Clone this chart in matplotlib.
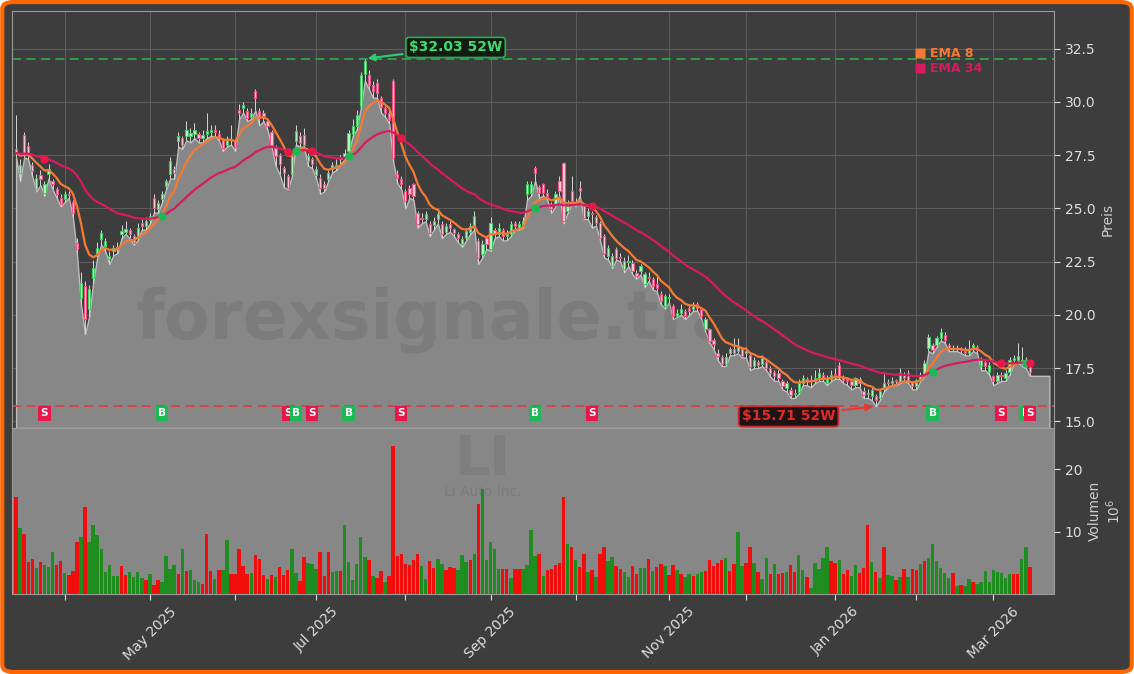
import matplotlib
matplotlib.use("Agg")
import matplotlib.pyplot as plt
import numpy as np
import pandas as pd
from matplotlib.lines import Line2D
from matplotlib.patches import FancyBboxPatch

# trading days (NYSE holidays removed)
holidays = ["2025-04-18", "2025-05-26", "2025-06-19", "2025-07-04", "2025-09-01",
            "2025-11-27", "2025-12-25", "2026-01-01", "2026-01-19", "2026-02-16"]
days = pd.bdate_range("2025-03-14", "2026-03-13")
days = days[~days.isin(pd.to_datetime(holidays))]

opens = [
    27.8, 26.67, 28.47, 27.92, 27.06, 25.89, 26.59, 25.73, 26.6, 26.3,
    25.9, 25.5, 25.45, 25.7, 25.3, 23.39, 20.81, 21.36, 20.27, 21.75,
    22.92, 23.55, 23.23, 22.61, 23.0, 23.2, 23.78, 23.9, 24.0, 23.7,
    23.6, 24.33, 24.17, 24.45, 25.5, 24.95, 25.42, 26.05, 26.6, 26.83,
    28.16, 28.3, 28.4, 28.39, 28.5, 28.5, 28.3, 28.5, 28.6, 28.7,
    28.5, 28.2, 28.0, 28.2, 28.1, 29.64, 29.72, 29.56, 29.3, 30.5,
    29.56, 29.48, 29.1, 28.6, 27.9, 27.5, 26.91, 26.52, 26.6, 28.16,
    28.39, 28.47, 27.22, 27.3, 26.59, 26.44, 26.13, 26.4, 26.83, 27.0,
    27.4, 27.4, 27.7, 28.5, 28.86, 29.8, 31.3, 31.28, 30.8, 30.89,
    30.2, 29.7, 29.48, 30.97, 26.6, 26.4, 25.8, 25.97, 26.13, 24.8,
    24.5, 24.5, 24.25, 24.2, 24.5, 24.25, 23.9, 24.25, 24.02, 23.8,
    23.31, 23.62, 23.9, 24.09, 23.47, 22.84, 23.62, 23.08, 24.0, 23.8,
    24.0, 23.7, 23.8, 24.3, 24.1, 24.2, 25.66, 25.73, 26.91, 26.0,
    26.13, 25.73, 25.2, 25.2, 26.28, 27.14, 24.9, 25.81, 25.3, 25.97,
    25.11, 24.64, 24.8, 24.6, 24.33, 23.7, 22.77, 22.3, 23.08, 22.7,
    22.14, 22.5, 22.45, 21.98, 22.06, 21.44, 21.8, 21.7, 21.44, 21.0,
    20.42, 20.8, 20.4, 19.95, 20.1, 20.2, 20.34, 20.3, 20.5, 20.27,
    19.33, 19.33, 18.8, 18.23, 18.0, 17.69, 18.2, 18.4, 18.3, 18.39,
    18.2, 18.1, 17.6, 17.8, 17.7, 17.8, 17.5, 17.3, 17.27, 16.88,
    16.56, 16.48, 16.3, 16.4, 16.8, 17.0, 16.9, 16.9, 17.0, 17.2,
    16.8, 17.0, 17.2, 17.66, 17.1, 17.0, 16.9, 16.72, 17.0, 16.41,
    16.3, 16.17, 16.2, 16.1, 16.5, 16.85, 16.8, 16.9, 16.9, 17.2,
    17.27, 16.88, 16.64, 16.95, 17.2, 18.44, 18.6, 18.59, 18.9, 19.06,
    18.6, 18.4, 18.45, 18.4, 18.3, 18.2, 18.4, 18.5, 17.58, 17.8,
    17.34, 17.11, 16.9, 17.2, 17.03, 17.3, 17.9, 17.9, 17.66, 17.9,
    17.66,
]
highs = [
    29.4, 27.3, 28.6, 28.1, 27.2, 26.6, 26.8, 26.3, 27.1, 26.4,
    26.0, 25.7, 25.8, 25.8, 25.4, 23.6, 22.0, 21.6, 21.4, 22.6,
    23.4, 24.0, 23.6, 23.0, 23.3, 23.4, 24.2, 24.4, 24.1, 23.8,
    24.3, 24.5, 24.6, 24.8, 25.7, 25.4, 25.8, 26.4, 27.4, 27.0,
    28.6, 28.4, 29.1, 28.8, 29.0, 28.6, 28.7, 29.5, 28.9, 28.9,
    28.7, 28.3, 28.4, 28.9, 28.2, 29.9, 30.0, 29.7, 29.7, 30.6,
    29.7, 29.6, 29.2, 28.7, 28.0, 27.6, 27.0, 26.6, 27.6, 28.9,
    28.6, 28.8, 27.6, 27.4, 27.0, 26.6, 26.3, 26.8, 27.2, 27.3,
    27.5, 27.8, 28.7, 29.2, 29.6, 31.4, 32.03, 31.5, 31.0, 31.1,
    30.3, 29.8, 29.6, 31.1, 26.8, 26.5, 25.9, 26.1, 26.2, 24.9,
    24.8, 24.9, 24.4, 24.6, 24.9, 24.4, 24.3, 24.4, 24.1, 23.9,
    23.7, 24.1, 24.3, 24.9, 23.6, 23.5, 23.7, 24.6, 24.1, 24.3,
    24.1, 24.0, 24.4, 24.4, 24.4, 24.6, 26.3, 26.3, 27.0, 26.1,
    26.2, 25.9, 25.3, 25.8, 26.5, 27.2, 25.4, 26.5, 25.5, 26.3,
    25.2, 25.0, 24.9, 24.7, 24.4, 23.8, 23.3, 22.9, 23.2, 22.9,
    22.7, 22.8, 22.6, 22.1, 22.4, 22.0, 22.0, 21.8, 21.9, 21.1,
    21.0, 21.0, 20.5, 20.3, 20.5, 20.3, 20.5, 20.6, 20.6, 20.3,
    19.9, 19.4, 18.9, 18.4, 18.1, 18.2, 18.5, 18.9, 18.9, 18.5,
    18.5, 18.2, 18.0, 17.9, 18.1, 17.9, 17.6, 17.4, 17.4, 17.0,
    16.9, 16.6, 16.5, 17.0, 17.2, 17.1, 17.2, 17.4, 17.5, 17.3,
    17.2, 17.4, 17.5, 17.8, 17.2, 17.1, 17.0, 17.1, 17.1, 16.6,
    16.5, 16.6, 16.3, 16.5, 17.3, 17.0, 17.1, 17.0, 17.5, 17.3,
    17.4, 16.9, 17.0, 17.3, 17.9, 19.1, 18.7, 19.0, 19.4, 19.2,
    18.7, 18.6, 18.6, 18.5, 18.5, 18.8, 18.7, 18.6, 18.0, 17.9,
    17.8, 17.2, 17.3, 17.3, 17.4, 18.0, 18.1, 18.7, 18.5, 18.0,
    17.7,
]
lows = [
    27.4, 26.3, 27.4, 27.3, 26.5, 25.8, 26.1, 25.6, 26.4, 25.9,
    25.5, 25.1, 25.3, 25.5, 24.6, 22.9, 20.5, 19.09, 19.9, 21.5,
    22.7, 23.3, 23.0, 22.4, 22.8, 22.9, 23.6, 23.8, 23.6, 23.3,
    23.5, 24.0, 24.0, 24.3, 24.8, 24.8, 25.3, 25.9, 26.4, 26.4,
    27.9, 27.8, 28.2, 28.1, 28.3, 28.1, 28.1, 28.3, 28.4, 28.4,
    28.2, 27.7, 27.9, 28.0, 27.7, 29.2, 29.5, 29.1, 29.2, 29.6,
    28.9, 29.1, 28.7, 27.9, 27.0, 26.6, 26.0, 25.9, 26.5, 28.0,
    27.9, 27.9, 27.0, 26.9, 26.4, 25.7, 25.8, 26.3, 26.7, 26.8,
    27.1, 27.3, 27.6, 28.4, 28.7, 29.7, 31.0, 30.6, 30.2, 30.2,
    29.5, 29.3, 29.0, 27.2, 26.2, 25.9, 25.0, 25.5, 25.4, 24.1,
    24.3, 24.4, 23.7, 24.0, 24.3, 23.6, 23.8, 23.9, 23.7, 23.4,
    23.2, 23.5, 23.8, 24.0, 22.4, 22.7, 23.1, 23.0, 23.6, 23.7,
    23.5, 23.5, 23.7, 24.0, 24.0, 24.1, 25.4, 25.6, 26.3, 25.5,
    25.6, 25.4, 24.8, 25.1, 25.6, 24.3, 24.8, 25.2, 25.1, 25.6,
    24.5, 24.5, 24.1, 24.2, 23.5, 22.7, 22.6, 22.2, 22.6, 22.5,
    22.0, 22.3, 21.9, 21.7, 21.9, 21.3, 21.6, 21.2, 21.1, 20.5,
    20.3, 20.6, 19.8, 19.9, 20.0, 19.8, 20.0, 20.2, 20.2, 19.8,
    19.2, 18.7, 18.4, 17.9, 17.6, 17.6, 18.1, 18.1, 18.2, 18.0,
    18.0, 17.4, 17.5, 17.5, 17.6, 17.4, 17.1, 16.9, 16.9, 16.5,
    16.4, 16.1, 16.1, 16.3, 16.7, 16.7, 16.6, 16.8, 16.9, 16.9,
    16.7, 16.9, 17.0, 17.0, 16.8, 16.7, 16.5, 16.6, 16.6, 16.1,
    16.1, 16.0, 15.71, 16.0, 16.4, 16.6, 16.7, 16.7, 16.8, 16.9,
    16.8, 16.5, 16.5, 16.9, 17.1, 18.3, 18.2, 18.5, 18.8, 18.7,
    18.3, 18.3, 18.3, 18.2, 18.1, 18.1, 18.3, 18.2, 17.4, 17.4,
    17.2, 16.7, 16.8, 16.9, 16.9, 17.2, 17.7, 17.8, 17.6, 17.5,
    17.14,
]
closes = [
    27.6, 27.06, 27.61, 27.53, 26.77, 26.44, 26.36, 26.13, 26.83, 26.13,
    25.66, 25.19, 25.66, 25.63, 24.8, 23.08, 21.52, 19.8, 21.2, 22.22,
    23.16, 23.86, 23.47, 22.77, 23.16, 23.1, 23.94, 24.02, 23.81, 23.39,
    24.09, 24.17, 24.41, 24.64, 25.03, 25.27, 25.66, 26.28, 27.22, 26.67,
    28.39, 28.0, 28.66, 28.55, 28.7, 28.31, 28.47, 28.63, 28.7, 28.6,
    28.31, 27.84, 28.23, 28.23, 27.88, 29.48, 29.88, 29.25, 29.48, 30.19,
    29.25, 29.33, 28.86, 28.0, 27.45, 27.1, 26.67, 25.97, 27.45, 28.63,
    28.08, 28.0, 27.45, 27.1, 26.83, 25.97, 25.97, 26.67, 27.06, 27.06,
    27.3, 27.61, 28.55, 28.86, 29.41, 31.28, 31.9, 30.81, 30.5, 30.42,
    29.75, 29.48, 29.17, 27.38, 26.44, 26.13, 25.34, 25.66, 25.58, 24.25,
    24.48, 24.72, 23.86, 24.41, 24.72, 23.78, 24.17, 24.09, 23.86, 23.62,
    23.55, 23.94, 24.17, 24.64, 22.69, 23.31, 23.31, 24.33, 23.78, 24.09,
    23.7, 23.78, 24.25, 24.17, 24.25, 24.41, 26.13, 26.13, 26.67, 25.73,
    25.73, 25.58, 24.95, 25.66, 25.81, 24.41, 25.11, 25.34, 25.27, 25.81,
    24.56, 24.88, 24.72, 24.33, 23.63, 22.84, 23.16, 22.77, 22.69, 22.69,
    22.53, 22.53, 22.06, 21.83, 22.3, 21.91, 21.75, 21.36, 21.28, 20.66,
    20.89, 20.81, 19.95, 20.11, 20.27, 19.95, 20.19, 20.42, 20.34, 19.95,
    19.8, 18.78, 18.63, 18.08, 17.69, 18.03, 18.39, 18.23, 18.47, 18.08,
    18.31, 17.55, 17.89, 17.66, 17.97, 17.5, 17.27, 17.11, 17.03, 16.64,
    16.8, 16.25, 16.33, 16.8, 17.03, 16.88, 16.88, 17.03, 17.27, 17.03,
    17.03, 17.19, 17.19, 17.11, 16.95, 16.88, 16.72, 17.03, 16.8, 16.25,
    16.33, 16.48, 16.02, 16.41, 16.8, 16.78, 16.88, 16.88, 17.27, 17.03,
    16.88, 16.64, 16.95, 17.19, 17.73, 18.98, 18.36, 18.91, 19.22, 18.83,
    18.44, 18.44, 18.4, 18.36, 18.2, 18.36, 18.59, 18.36, 17.89, 17.58,
    17.66, 16.88, 17.19, 17.11, 17.27, 17.89, 17.97, 18.05, 17.89, 17.81,
    17.34,
]
# volume in millions, colour per bar (G = green, R = red)
volume_m = [
    15.6, 10.6, 9.6, 5.1, 5.6, 4.1, 5.1, 4.6, 4.3, 6.7,
    4.6, 5.3, 3.3, 3.0, 3.7, 8.3, 9.1, 14.0, 8.4, 11.0,
    9.4, 7.3, 3.5, 4.6, 2.9, 2.9, 4.5, 3.0, 3.5, 2.7,
    3.5, 2.5, 2.2, 3.2, 1.4, 2.2, 1.9, 6.1, 4.0, 4.6,
    3.2, 7.3, 3.7, 3.8, 2.2, 2.0, 1.6, 9.6, 3.7, 2.4,
    3.8, 3.8, 8.6, 3.2, 3.2, 7.3, 4.5, 3.2, 3.3, 6.2,
    5.6, 3.0, 2.4, 3.0, 2.7, 4.3, 3.0, 3.8, 7.2, 3.3,
    2.1, 5.9, 4.9, 4.8, 4.0, 6.8, 2.9, 6.7, 3.5, 3.7,
    3.7, 11.0, 5.1, 2.2, 4.8, 9.2, 5.9, 5.4, 2.9, 2.5,
    3.7, 1.9, 2.9, 23.8, 6.1, 6.4, 4.8, 4.6, 5.4, 6.4,
    4.5, 2.4, 5.3, 4.1, 5.6, 4.8, 3.8, 4.3, 4.1, 3.8,
    6.2, 5.1, 5.4, 6.5, 14.4, 16.8, 5.4, 8.3, 7.2, 4.0,
    4.0, 4.0, 2.5, 4.0, 4.0, 4.0, 4.6, 10.2, 6.1, 6.5,
    2.9, 3.8, 4.0, 4.6, 4.9, 15.6, 8.1, 7.5, 5.4, 4.3,
    6.4, 3.5, 3.8, 2.7, 6.5, 7.5, 5.3, 5.9, 4.5, 4.0,
    3.5, 2.7, 4.5, 3.2, 4.1, 4.1, 5.6, 3.7, 4.3, 4.8,
    4.5, 3.0, 4.6, 3.8, 3.2, 2.7, 3.2, 2.9, 3.2, 3.5,
    3.7, 5.4, 4.5, 4.9, 5.4, 5.7, 3.7, 4.8, 9.9, 4.5,
    4.9, 7.5, 4.9, 3.5, 2.4, 5.7, 3.2, 4.8, 3.2, 3.3,
    3.5, 4.6, 3.5, 6.2, 3.8, 2.7, 0.9, 4.9, 4.0, 5.7,
    7.5, 5.3, 4.9, 5.4, 3.2, 3.8, 2.9, 4.6, 3.3, 4.1,
    11.0, 5.1, 3.5, 2.5, 7.6, 3.0, 2.9, 2.2, 2.7, 4.0,
    2.7, 4.0, 3.8, 4.8, 5.3, 5.7, 8.0, 5.3, 4.1, 3.3,
    2.5, 3.3, 1.3, 1.4, 1.3, 2.4, 1.9, 1.6, 1.9, 3.7,
    1.9, 3.8, 3.5, 3.3, 2.5, 3.2, 3.2, 3.2, 5.6, 7.5,
    4.3,
]
volume_dir = ("RGRRRGRGGG" "RRGRRRGRGG" "GGGGGGRRGG" "GGRGRRGGGG" "RGRGGGRRRG"
              "RGGRRRRRGR" "RRGRGRRRGG" "RRGGGRRRGG" "RGGGGGGRGR" "RGR"
              "R"
              "RRRRRRGGRR" "GGRRRGGGRG" "RGGGGGRRGR" "RGGGGRGRRR" "R"
              "RG"
              "RGRRGRGRRG" "GRRGGRRGGR" "GRRGRRGRGG" "RGGRRRRRGR" "RGGRRGRGGR"
              "GRRGRRGGRG" "GGGGRRGRRG" "GRRRGRGRGG" "RGRGRRGRGG" "GGGGRGRGGR"
              "GGGGGGGGGR" "RGGR")

# EMA crossover signals
signal_idx = [7, 36, 67, 69, 73, 82, 95, 128, 142, 226, 243, 249, 250]
signal_type = ["S", "B", "S", "B", "S", "B", "S", "B", "S", "B", "S", "B", "S"]

BG = "#3d3d3d"
AREA = "#878787"
UP_C, DN_C = "#1db954", "#e8174a"
EMA8_C, EMA34_C = "#f47a33", "#d81b60"

x = np.arange(len(closes))
o = np.array(opens); c = np.array(closes)
h = np.array(highs); l = np.array(lows)
ema8 = pd.Series(closes).ewm(span=8, adjust=False).mean().values
ema34 = pd.Series(closes).ewm(span=34, adjust=False).mean().values

fig = plt.figure(figsize=(11.34, 6.74), dpi=100, facecolor="white")
frame = FancyBboxPatch((0.002, 0.003), 0.996, 0.994, boxstyle="round,pad=0,rounding_size=0.01",
                       transform=fig.transFigure, facecolor=BG, edgecolor="#ff6600",
                       linewidth=3, zorder=-10)
fig.patches.append(frame)

ax = fig.add_axes([0.0106, 0.365, 0.919, 0.6187])
axv = fig.add_axes([0.0106, 0.1187, 0.919, 0.2463], sharex=ax)

ymin, ymax = l.min() * 0.935, h.max() * 1.07
ax.set_facecolor(BG)
ax.set_ylim(ymin, ymax)
ax.set_xlim(-1, len(x) + 5)

# grey area under the lows, held flat a few bars past the end
xs = np.append(x, x[-1] + 4.8)
ls = np.append(l, l[-1])
ax.fill_between(xs, ls, ymin, facecolor=AREA, edgecolor="#bdbdbd", linewidth=1, zorder=1)

ax.text(0.452, 0.259, "forexsignale.trade", transform=ax.transAxes, fontsize=48,
        fontweight="bold", color=BG, alpha=0.14, ha="center", va="center", zorder=2)

# candles
up = c >= o
ax.vlines(x, l, h, color="#d6d6d6", linewidth=0.7, zorder=3)
body_lo = np.minimum(o, c)
body_h = np.maximum(np.abs(c - o), 0.05)
ax.bar(x[up], body_h[up], bottom=body_lo[up], width=0.55, color="#c4f2cc",
       edgecolor="#45c866", linewidth=0.8, zorder=3)
ax.bar(x[~up], body_h[~up], bottom=body_lo[~up], width=0.55, color="#ffd0da",
       edgecolor="#f0517f", linewidth=0.8, zorder=3)

ax.plot(x, ema8, color=EMA8_C, linewidth=1.6, zorder=4)
ax.plot(x, ema34, color=EMA34_C, linewidth=1.6, zorder=4)

# 52-week high / low
hi_i, lo_i = int(np.argmax(h)), int(np.argmin(l))
ax.axhline(h[hi_i], color="#2ea44f", linestyle=(0, (5, 3)), linewidth=1.3, zorder=2)
ax.axhline(l[lo_i], color="#e04040", linestyle=(0, (5, 3)), linewidth=1.3, zorder=2)
ax.annotate("\\$%.2f 52W" % h[hi_i], xy=(hi_i, h[hi_i]), xytext=(108.4, 32.56),
            fontsize=10, fontweight="bold", color="#3ddc6e", ha="center", va="center",
            bbox=dict(boxstyle="round,pad=0.22", fc="#121a14", ec="#2ea44f", lw=1.3),
            arrowprops=dict(arrowstyle="-|>", color="#2ecc71", lw=1.5, mutation_scale=10),
            zorder=6)
ax.annotate("\\$%.2f 52W" % l[lo_i], xy=(lo_i, l[lo_i]), xytext=(190.5, 15.23),
            fontsize=10, fontweight="bold", color="#e02a2a", ha="center", va="center",
            bbox=dict(boxstyle="round,pad=0.22", fc="#1e1212", ec="#c62828", lw=1.3),
            arrowprops=dict(arrowstyle="-|>", color="#e53935", lw=1.5, mutation_scale=10),
            zorder=6)

# crossover dots and signal boxes
for i, t in zip(signal_idx, signal_type):
    col = UP_C if t == "B" else DN_C
    ax.plot(i, ema34[i], "o", color=col, markersize=5, zorder=5)
    ax.text(i, 15.38, t, fontsize=7.5, fontweight="bold", color="white", ha="center",
            va="center", zorder=6,
            bbox=dict(boxstyle="square,pad=0.22", fc=col, ec="none"))

leg = ax.legend([Line2D([], [], marker="s", color="none", markerfacecolor=EMA8_C,
                        markeredgecolor="none", markersize=7),
                 Line2D([], [], marker="s", color="none", markerfacecolor=EMA34_C,
                        markeredgecolor="none", markersize=7)],
                ["EMA 8", "EMA 34"], loc="upper left", bbox_to_anchor=(0.862, 0.925),
                frameon=False, handlelength=0.8, handletextpad=0.4, labelspacing=0.15,
                borderaxespad=0, prop={"weight": "bold", "size": 9},
                labelcolor=[EMA8_C, EMA34_C])

ax.set_yticks([15.0, 17.5, 20.0, 22.5, 25.0, 27.5, 30.0, 32.5])
ax.yaxis.set_major_formatter(matplotlib.ticker.FormatStrFormatter("%.1f"))
ax.yaxis.tick_right()
ax.yaxis.set_label_position("right")
ax.set_ylabel("Preis", color="#cccccc", fontsize=10)
ax.tick_params(axis="y", colors="#dddddd", labelsize=10, length=4)
ax.tick_params(axis="x", bottom=False, labelbottom=False)
ax.grid(True, color="#5c5c5c", linewidth=0.8)
ax.set_axisbelow(True)
for s in ax.spines.values():
    s.set_color("#9a9a9a")

# volume panel
axv.set_facecolor(AREA)
vcols = ["#1e8c1e" if d == "G" else "#f20d0d" for d in volume_dir]
axv.bar(x, volume_m, width=0.85, color=vcols, zorder=2)
axv.set_ylim(0, max(volume_m) * 1.12)
axv.set_yticks([10, 20])
axv.yaxis.tick_right()
axv.yaxis.set_label_position("right")
axv.set_ylabel("Volumen\n$10^6$", color="#cccccc", fontsize=10)
axv.tick_params(axis="y", colors="#dddddd", labelsize=10, length=4)
axv.text(0.452, 0.81, "LI", transform=axv.transAxes, fontsize=40, fontweight="bold",
         color=BG, alpha=0.12, ha="center", va="center", zorder=1)
axv.text(0.452, 0.615, "Li Auto Inc.", transform=axv.transAxes, fontsize=10,
         color=BG, alpha=0.15, ha="center", va="center", zorder=1)
for s in axv.spines.values():
    s.set_color("#9a9a9a")

# month ticks on first trading day of each month
month_pos, month_lab = [], []
for i in range(1, len(days)):
    if days[i].month != days[i - 1].month:
        month_pos.append(i)
        month_lab.append(days[i].strftime("%b %Y") if days[i].month % 2 == 1 else "")
axv.set_xticks(month_pos)
axv.set_xticklabels(month_lab, rotation=45)
axv.tick_params(axis="x", colors="#dddddd", labelsize=10, length=4)

fig.savefig("out.png", dpi=100, facecolor=fig.get_facecolor())
